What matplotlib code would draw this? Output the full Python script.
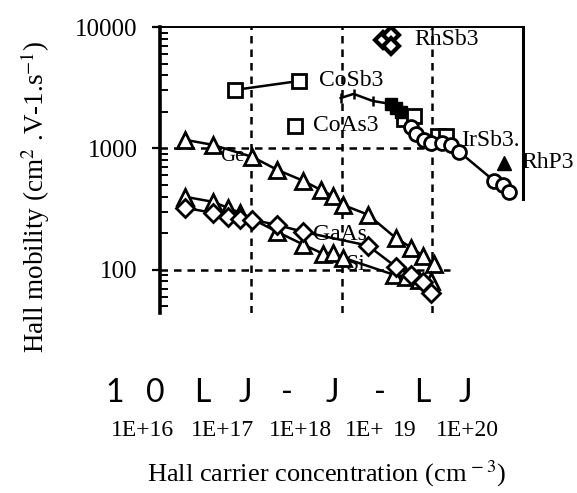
import matplotlib
matplotlib.use("Agg")
import matplotlib.pyplot as plt

plt.rcParams['font.family'] = ['Liberation Serif', 'DejaVu Serif']
plt.rcParams['mathtext.fontset'] = 'stix'

W, H = 577, 493

# Ge (open triangles, upper curve)
ge_n = [1.9e16, 3.8e16, 1.04e17, 1.96e17, 3.8e17, 5.9e17, 8.0e17, 1.03e18,
        1.96e18, 3.95e18, 5.9e18, 7.85e18, 1.04e19]
ge_mu = [1175, 1070, 851, 665, 540, 455, 406, 343, 284, 183, 152, 130, 112]

# Si (open triangles, lower curve)
si_n = [1.9e16, 3.8e16, 5.6e16, 7.7e16, 1.96e17, 3.8e17, 6.2e17, 8.0e17,
        1.03e18, 3.75e18, 5.1e18, 7.1e18, 9.6e18]
si_mu = [399, 363, 324, 294, 205, 161, 136, 138, 126, 91, 87.5, 82.8, 81]

# GaAs (open diamonds)
gaas_n = [1.9e16, 3.8e16, 5.6e16, 7.7e16, 1.04e17, 1.96e17, 3.8e17, 1.96e18,
          3.95e18, 5.8e18, 7.85e18, 9.6e18]
gaas_mu = [324, 294, 273, 263, 258, 234, 205, 158, 106, 91, 79.6, 64.7]

# skutterudites
cosb3_n = [6.7e16, 3.4e17]
cosb3_mu = [3030, 3590]
coas3_n = [3.1e17]
coas3_mu = [1530]
rhsb3_n = [2.9e18, 3.5e18, 3.5e18]
rhsb3_mu = [7820, 8600, 6980]
rhp3_n = [6.2e19]
rhp3_mu = [760]

# IrSb3 curve: line start (ticks), filled squares, open squares, circles
irsb3_tick_n = [9.8e17, 1.36e18, 2.2e18]
irsb3_tick_mu = [2600, 2810, 2460]
irsb3_fill_n = [3.5e18, 3.95e18, 4.5e18]
irsb3_fill_mu = [2320, 2150, 2000]
irsb3_sq_n = [4.84e18, 6.25e18, 1.15e19, 1.41e19]
irsb3_sq_mu = [1750, 1850, 1270, 1270]
irsb3_circ_n = [5.8e18, 6.7e18, 8.05e18, 9.6e18, 1.27e19, 1.6e19, 1.99e19,
                4.8e19, 6.0e19, 7.0e19]
irsb3_circ_mu = [1500, 1315, 1175, 1110, 1110, 1070, 935, 540, 500, 439]

# scanned (garbled) axis text below the plot
ocr_chars = ['1', '0', 'L', 'J', '-', 'J', '-', 'L', 'J']
ocr_px = [115, 155, 202, 245, 287, 332, 380, 422, 465]
xtick_labels = ['1E+16', '1E+17', '1E+18', '1E+', '19', '1E+20']
xtick_px = [142, 222, 300, 365, 405, 467]

fig = plt.figure(figsize=(W / 100, H / 100), dpi=100)
ax = fig.add_axes([160 / W, 1 - 313 / H, 363 / W, 286 / H])
ax.set_xscale('log')
ax.set_yscale('log')
ax.set_xlim(1e16, 1e20)
ax.set_ylim(44, 10000)

# dashed grid
for xv in [1e17, 1e18, 1e19]:
    ax.axvline(xv, color='black', lw=1.8, dashes=(3, 2.4), zorder=1)
ax.axhline(1000, xmax=0.78, color='black', lw=1.8, dashes=(3, 2.4), zorder=1)
ax.axhline(100, xmax=0.80, color='black', lw=1.8, dashes=(3, 2.4), zorder=1)

lw = 1.8
mk = dict(color='black', mfc='white', mec='black', mew=2.0, lw=lw, zorder=3)
ax.plot(ge_n, ge_mu, marker='^', ms=11, **mk)
ax.plot(si_n, si_mu, marker='^', ms=11, **mk)
ax.plot(gaas_n, gaas_mu, marker='D', ms=9, **mk)
ax.plot(cosb3_n, cosb3_mu, marker='s', ms=10, **mk)
ax.plot(coas3_n, coas3_mu, marker='s', ms=10, ls='none', color='black',
        mfc='white', mec='black', mew=2.0, zorder=3)
ax.plot(rhsb3_n, rhsb3_mu, marker='D', ms=8, ls='none', mfc='white',
        mec='black', mew=3.0, zorder=3)
ax.plot(rhp3_n, rhp3_mu, marker='^', ms=10, ls='none', color='black', zorder=3)

line_n = irsb3_tick_n + irsb3_fill_n + irsb3_circ_n
line_mu = irsb3_tick_mu + irsb3_fill_mu + irsb3_circ_mu
ax.plot(line_n, line_mu, color='black', lw=lw, zorder=2)
ax.plot(irsb3_tick_n, irsb3_tick_mu, ls='none', marker='|', ms=7,
        mew=1.8, color='black', zorder=3)
ax.plot(irsb3_sq_n, irsb3_sq_mu, ls='none', marker='s', ms=10, mfc='white',
        mec='black', mew=2.0, zorder=3)
ax.plot(irsb3_circ_n, irsb3_circ_mu, ls='none', marker='o', ms=10, mfc='white',
        mec='black', mew=2.0, zorder=4)
ax.plot(irsb3_fill_n, irsb3_fill_mu, ls='none', marker='s', ms=9,
        color='black', zorder=4)

# series labels
k = 0.72
lab = dict(fontsize=17, va='center', ha='left', textcoords='offset points', zorder=5)
ax.annotate('Ge', (ge_n[1], ge_mu[1]), xytext=(8 * k, -12 * k), fontsize=15,
            va='center', ha='left', textcoords='offset points', zorder=5)
ax.annotate('GaAs', (gaas_n[6], gaas_mu[6]), xytext=(10 * k, -3 * k), **lab)
ax.annotate('Si', (si_n[8], si_mu[8]), xytext=(3 * k, -7 * k), **lab)
ax.annotate('CoSb3', (cosb3_n[-1], cosb3_mu[-1]), xytext=(20 * k, 0), **lab)
ax.annotate('CoAs3', (coas3_n[0], coas3_mu[0]), xytext=(18 * k, 0), **lab)
ax.annotate('RhSb3', (rhsb3_n[1], rhsb3_mu[0]), xytext=(23 * k, 0), **lab)
ax.annotate('IrSb3.', (irsb3_circ_n[4], irsb3_circ_mu[4]), xytext=(19 * k, 2 * k), **lab)
ax.annotate('RhP3', (rhp3_n[0], rhp3_mu[0]), xytext=(17 * k, 0), annotation_clip=False, **lab)

# axes styling
ax.spines['bottom'].set_visible(False)
ax.spines['left'].set_linewidth(2.6)
ax.spines['top'].set_linewidth(1.4)
ax.spines['right'].set_linewidth(2.2)
ax.spines['right'].set_bounds(380, 10000)
ax.set_xticks([])
ax.set_xticks([], minor=True)
ax.set_yticks([100, 1000, 10000])
ax.set_yticklabels(['100', '1000', '10000'])
ax.tick_params(axis='y', which='major', direction='out', length=6, width=1.6,
               pad=10, labelsize=18)
ax.tick_params(axis='y', which='minor', direction='in', length=6, width=1.4)

fig.text(35 / W, 1 - 197 / H, 'Hall mobility (cm$^{2}$ .V-1.s$^{-1}$)',
         rotation=90, ha='center', va='center', fontsize=19.5)

for ch, px in zip(ocr_chars, ocr_px):
    fig.text(px / W, 1 - 393 / H, ch, ha='center', va='center', fontsize=23,
             family=['Lato', 'DejaVu Sans'], color='black')
for t, px in zip(xtick_labels, xtick_px):
    fig.text(px / W, 1 - 430 / H, t, ha='center', va='center', fontsize=17)

fig.text(327 / W, 1 - 474 / H, 'Hall carrier concentration (cm$^{\\,-3}$)',
         ha='center', va='center', fontsize=19)

fig.savefig('out.png', dpi=100)
